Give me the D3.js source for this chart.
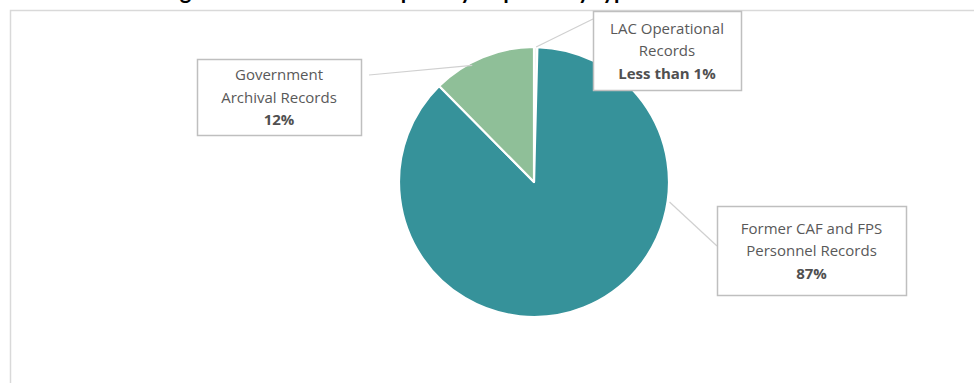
<!DOCTYPE html>
<html>
<head>
<meta charset="utf-8">
<script src="https://cdn.jsdelivr.net/npm/d3@7"></script>
<style>
  html, body { margin: 0; padding: 0; background: #fff; }
  svg { display: block; }
</style>
</head>
<body>
<svg id="chart" width="974" height="383"></svg>
<script>
// ---- data ----
const categories = ["LAC Operational Records", "Former CAF and FPS Personnel Records", "Government Archival Records"];
const labelLines = [["LAC Operational", "Records"], ["Former CAF and FPS", "Personnel Records"], ["Government", "Archival Records"]];
const values = [0.4, 87.2, 12.4];
const valueLabels = ["Less than 1%", "87%", "12%"];
const colors = ["#EEF5EF", "#36929A", "#8FBF98"];
const titleText = "Figure 3: Distribution of privacy requests by type";

// ---- layout (separate from data) ----
const W = 974, H = 383;
const cx = 534, cy = 182, R = 135;
const boxes = [
  { x: 593, y: 11, w: 148, h: 79, anchor: [593, 19], leaderAngle: 0.9, leaderR: 135 },
  { x: 717, y: 206, w: 189, h: 89, anchor: [717, 246], leaderAngle: 98.4, leaderR: 137 },
  { x: 197, y: 59, w: 164, h: 76, anchor: [369, 75], leaderAngle: -27.9, leaderR: 132 }
];

const svg = d3.select("#chart");

// chart area border
svg.append("path")
  .attr("d", `M10.5,${H} L10.5,10.5 L${W},10.5`)
  .attr("fill", "none")
  .attr("stroke", "#d9d9d9")
  .attr("stroke-width", 1.5);

// title (cropped at top, as in the reference)
svg.append("text")
  .attr("x", 400).attr("y", -1.5)
  .attr("text-anchor", "middle")
  .attr("font-family", "Lato, 'Open Sans', sans-serif")
  .attr("font-weight", "bold")
  .attr("font-size", 22)
  .attr("fill", "#000")
  .text(titleText);

const pie = d3.pie().sort(null).value(d => d)(values);
const arc = d3.arc().innerRadius(0).outerRadius(R);

const g = svg.append("g").attr("transform", `translate(${cx},${cy})`);
g.selectAll("path.slice")
  .data(pie)
  .join("path")
  .attr("class", "slice")
  .attr("d", arc)
  .attr("fill", (d, i) => colors[i])
  .attr("stroke", "#fff")
  .attr("stroke-width", 2.2)
  .attr("stroke-linejoin", "round");

// leader lines
const polar = (deg, r) => {
  const a = deg * Math.PI / 180;
  return [cx + r * Math.sin(a), cy - r * Math.cos(a)];
};
boxes.forEach((b, i) => {
  const p = polar(b.leaderAngle, b.leaderR);
  svg.append("line")
    .attr("x1", b.anchor[0]).attr("y1", b.anchor[1])
    .attr("x2", p[0]).attr("y2", p[1])
    .attr("stroke", "#d0d0d0")
    .attr("stroke-width", 1.2);
});

// label boxes
boxes.forEach((b, i) => {
  const grp = svg.append("g");
  grp.append("rect")
    .attr("x", b.x + 0.5).attr("y", b.y + 0.5)
    .attr("width", b.w).attr("height", b.h)
    .attr("fill", "#fff")
    .attr("stroke", "#bfbfbf")
    .attr("stroke-width", 1.5);
  const tx = b.x + b.w / 2;
  const lines = labelLines[i];
  const lh = 22.5;
  const total = lines.length + 1;
  const y0 = b.y + b.h / 2 - (total - 1) * lh / 2 + 5.5;
  lines.forEach((ln, k) => {
    grp.append("text")
      .attr("x", tx).attr("y", y0 + k * lh)
      .attr("text-anchor", "middle")
      .attr("font-family", "'Open Sans', Lato, sans-serif")
      .attr("font-size", 15)
      .attr("fill", "#595959")
      .text(ln);
  });
  grp.append("text")
    .attr("x", tx).attr("y", y0 + lines.length * lh)
    .attr("text-anchor", "middle")
    .attr("font-family", "'Open Sans', Lato, sans-serif")
    .attr("font-size", 15)
    .attr("font-weight", "bold")
    .attr("fill", "#505050")
    .text(valueLabels[i]);
});
</script>
</body>
</html>
